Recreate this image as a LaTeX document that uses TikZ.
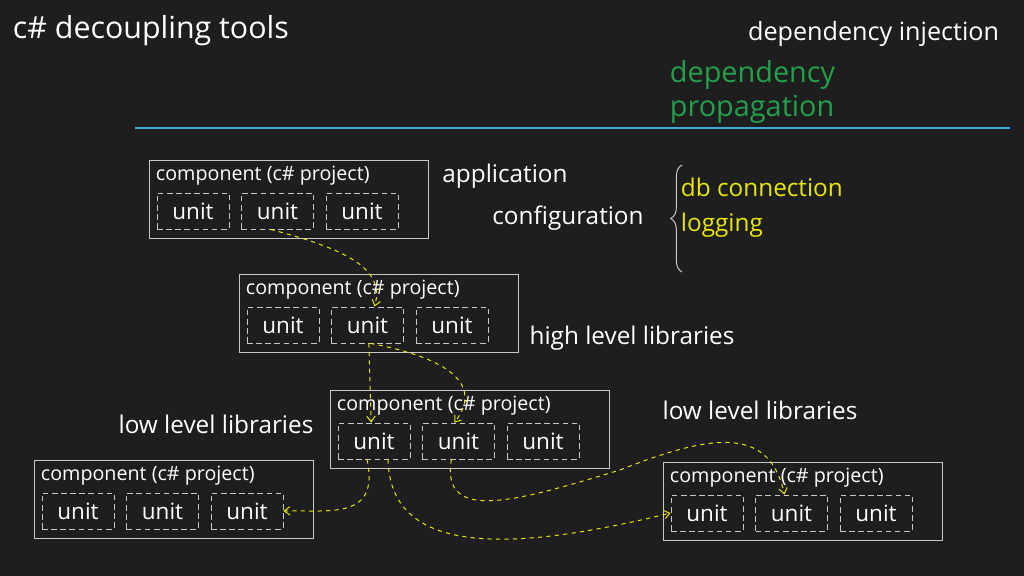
\documentclass[tikz,border=0pt]{standalone}
\usepackage{fontspec}
\setmainfont{Open Sans}
\usetikzlibrary{arrows.meta,decorations.pathreplacing}
\definecolor{board}{HTML}{1E1E1E}
\definecolor{chalk}{HTML}{C8C8C8}
\definecolor{dep}{HTML}{E8E800}
\definecolor{propgreen}{HTML}{22A04B}
\definecolor{rule}{HTML}{3FA9DA}
\tikzset{
  compbox/.style={draw=chalk, line width=0.7pt},
  unitbox/.style={draw=chalk, dash pattern=on 4pt off 2.5pt, line width=0.6pt, minimum width=1.8cm, minimum height=0.9cm, inner sep=0pt, text=white, font=\fontsize{16}{18}\selectfont},
  complabel/.style={anchor=west, text=white, font=\fontsize{14}{16}\selectfont},
  caption/.style={text=white, font=\fontsize{17.3}{20}\selectfont},
  deparrow/.style={dep, dashed, line width=0.7pt, -{Straight Barb[length=4pt,width=6pt]}}
}
\begin{document}
\begin{tikzpicture}[x=0.025cm,y=-0.025cm]
\fill[board] (0,0) rectangle (1024,576);
\useasboundingbox (0,0) rectangle (1024,576);

%title and header
\node[anchor=west, text=white, font=\fontsize{21.6}{26}\selectfont] (title) at (8,31) {c\# decoupling tools};
\node[anchor=east, text=white, font=\fontsize{17.9}{21}\selectfont] (inject) at (1004,34) {dependency injection};
\node[anchor=west, text=propgreen, font=\fontsize{20.5}{24}\selectfont, align=left] (prop) at (665,92) {dependency\\propagation};
\draw[rule, line width=2pt] (135,128) -- (1010,128);

%components
\foreach \name/\x/\y in {c1/149/160, c2/239/274, c3/330/390, c4/34/460, c5/663/462} {
  \draw[compbox] (\x,\y) rectangle ++(279,78);
  \node[complabel] (\name lab) at (\x+2,\y+16) {component (c\# project)};
  \foreach \i in {1,2,3}
    \node[unitbox] (\name u\i) at (\x+44+84.5*\i-84.5,\y+51) {unit};
}

%captions
\node[caption] (app) at (505,176) {application};
\node[caption] (config) at (568,218) {configuration};
\draw[chalk, line width=0.7pt, decorate, decoration={brace, amplitude=8pt}] (682,272) -- (682,165);
\node[anchor=west, text=dep, font=\fontsize{17.3}{20}\selectfont] (db) at (676,187) {db connection};
\node[anchor=west, text=dep, font=\fontsize{17.3}{20}\selectfont] (log) at (676,225) {logging};
\node[caption] (high) at (632,338) {high level libraries};
\node[caption] (lowleft) at (216,424) {low level libraries};
\node[caption] (lowright) at (760,410) {low level libraries};

%dependencies
\draw[deparrow] ([xshift=-5pt]c1u2.south) .. controls (350,250) and (385,270) .. ([xshift=5pt]c2u2.north);
\draw[deparrow] ([xshift=1pt]c2u2.south) -- ([xshift=-2pt]c3u1.north);
\draw[deparrow] ([xshift=2pt]c2u2.south) .. controls (460,360) and (480,390) .. ([xshift=-3pt]c3u2.north);
\draw[deparrow] ([xshift=-5pt]c3u1.south) .. controls (380,520) and (330,510) .. (c4u3.east);
\draw[deparrow] ([xshift=10pt]c3u1.south) .. controls (390,560) and (520,550) .. (c5u1.west);
\draw[deparrow] ([xshift=-5pt]c3u2.south) .. controls (440,525) and (520,500) .. (620,470)
  .. controls (720,430) and (770,430) .. ([xshift=-5pt]c5u2.north);
\end{tikzpicture}
\end{document}
